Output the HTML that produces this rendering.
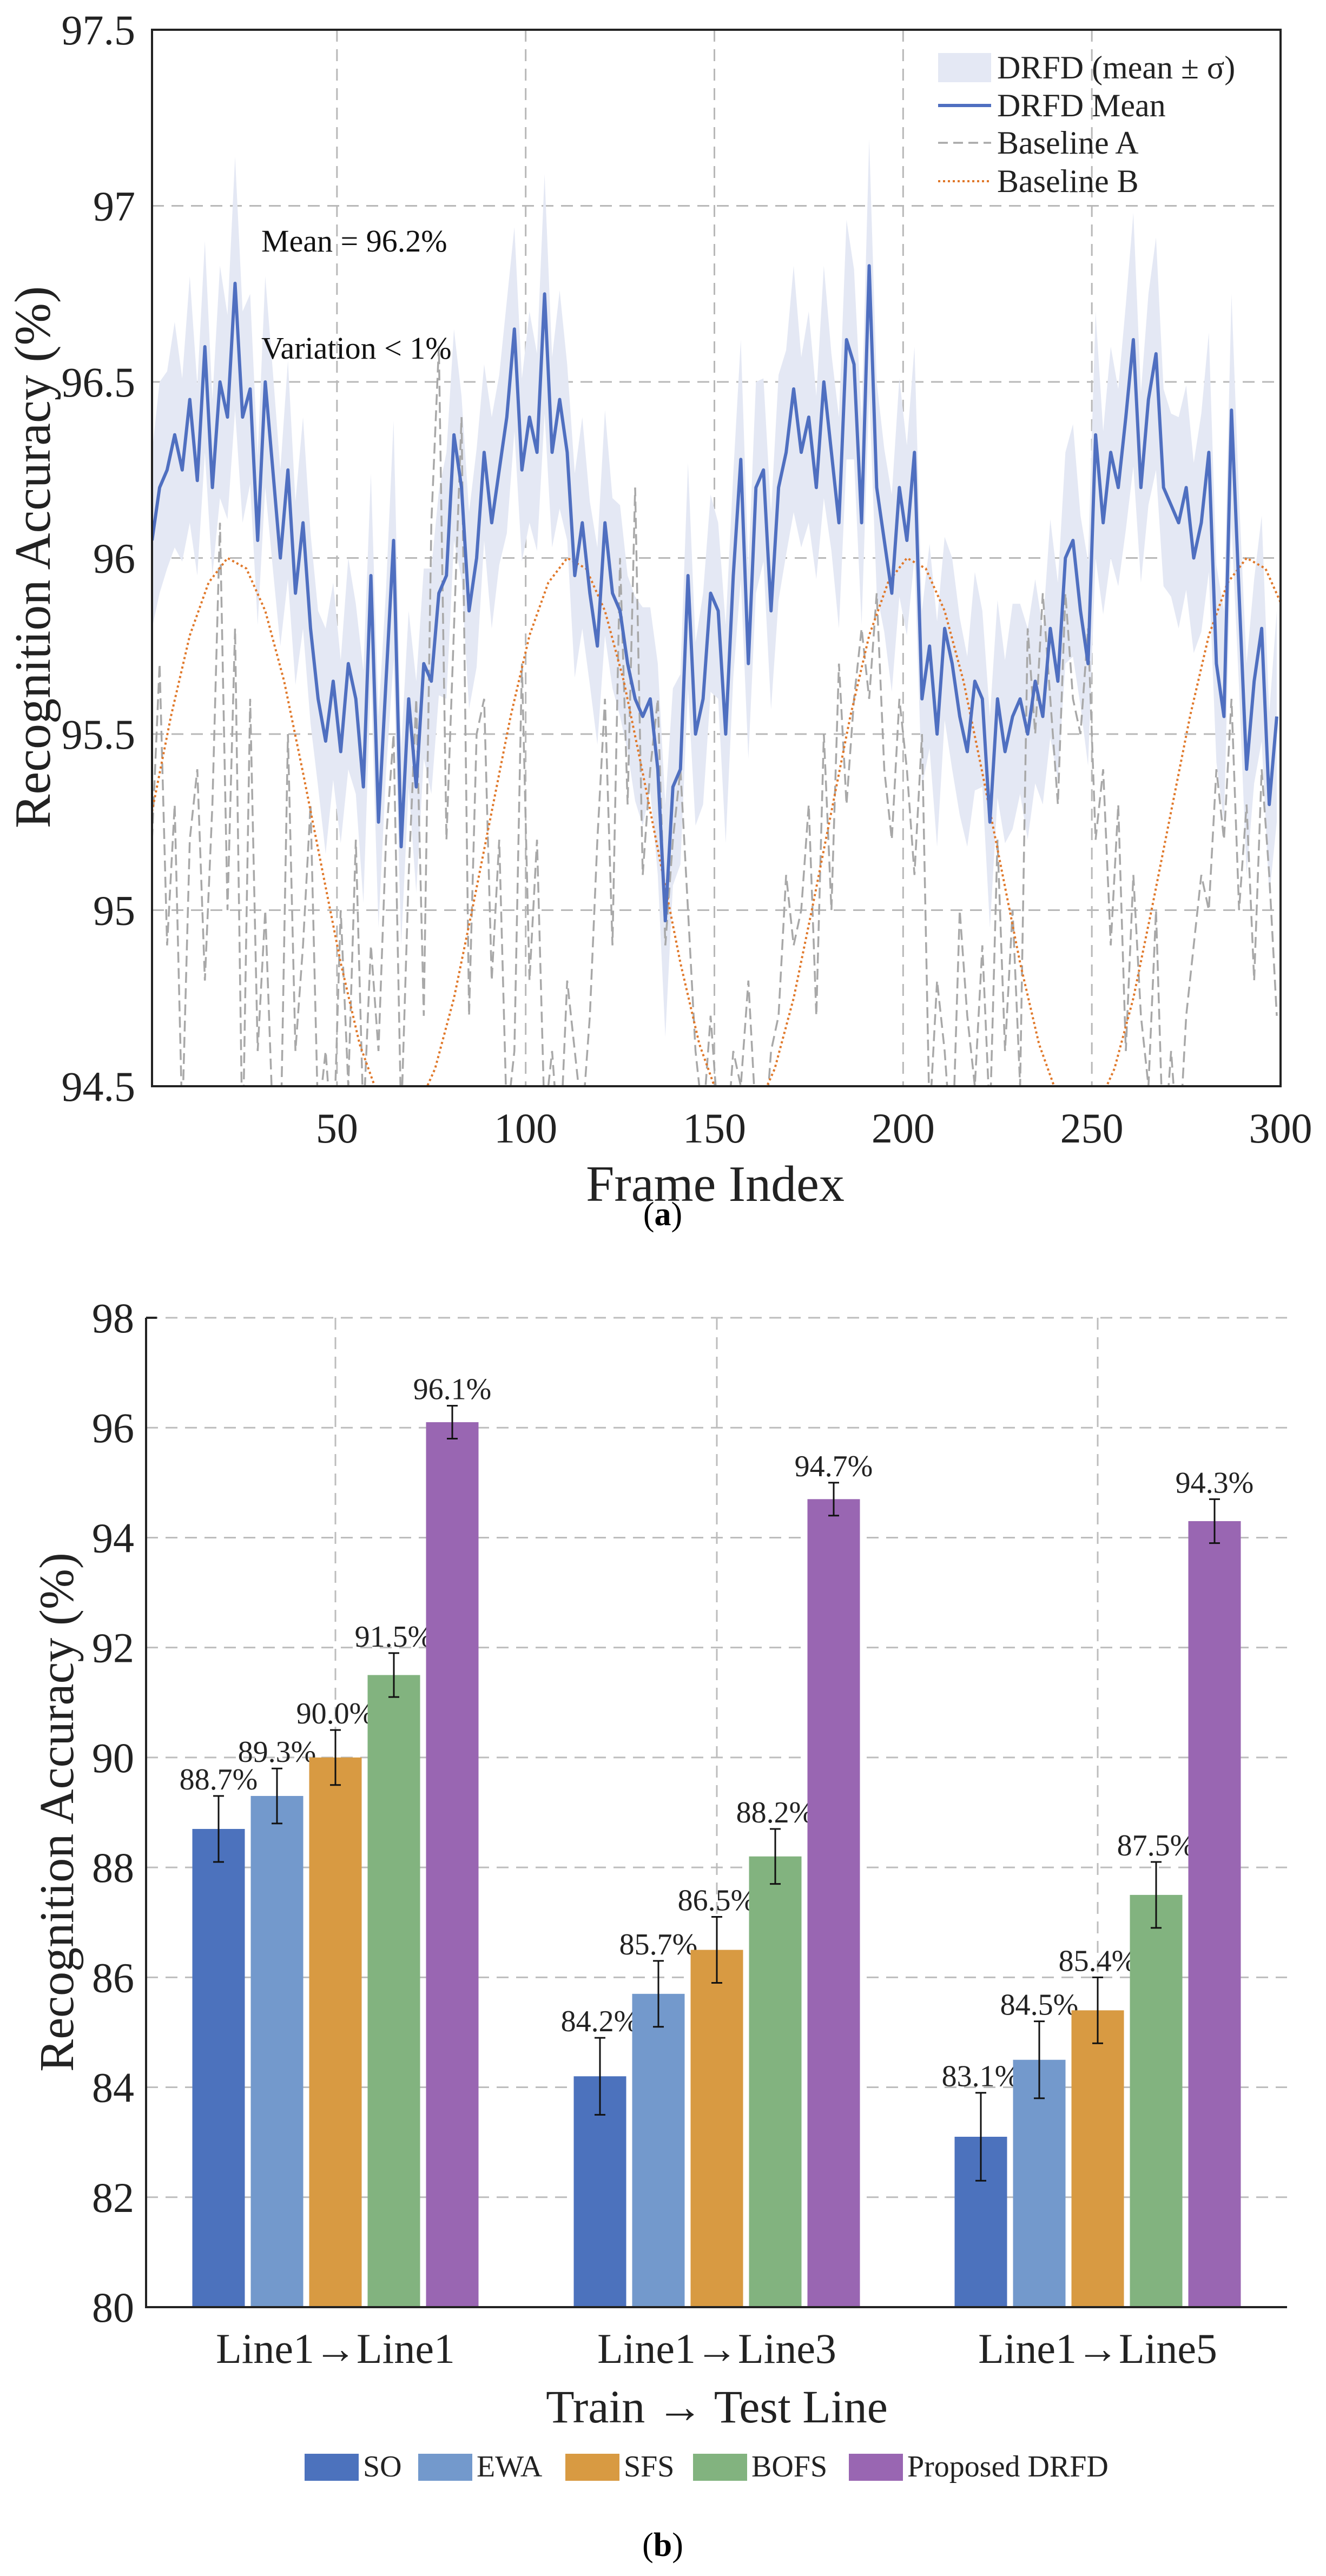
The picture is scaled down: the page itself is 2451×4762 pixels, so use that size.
<!DOCTYPE html>
<html><head><meta charset="utf-8">
<style>
html,body{margin:0;padding:0;background:#fff;}
svg{display:block;font-family:"Liberation Serif",serif;}
</style></head>
<body>
<svg id="fig" width="2451" height="4762" viewBox="0 0 2451 4762" xmlns="http://www.w3.org/2000/svg">
<defs><clipPath id="clipA"><rect x="281" y="55" width="2086" height="1953"/></clipPath></defs>
<g id="chartA"></g>
<text x="1225" y="2265" text-anchor="middle" font-size="62">(<tspan font-weight="bold">a</tspan>)</text>
<g id="chartB"></g>
<text x="1225" y="4725" text-anchor="middle" font-size="62">(<tspan font-weight="bold">b</tspan>)</text>
</svg>
<script>
// ---------- Chart A data ----------
const meanFrames0 = 1, meanStep = 2;
const drfdMean = [96.05,96.2,96.25,96.35,96.25,96.45,96.22,96.6,96.2,96.5,96.4,96.78,96.4,96.48,96.05,96.5,96.25,96.0,96.25,95.9,
96.1,95.8,95.6,95.48,95.65,95.45,95.7,95.6,95.35,95.95,95.25,95.65,96.05,95.18,95.6,95.35,95.7,95.65,95.9,95.95,
96.35,96.2,95.85,96.0,96.3,96.1,96.25,96.4,96.65,96.25,96.4,96.3,96.75,96.3,96.45,96.3,95.95,96.1,95.9,95.75,
96.1,95.9,95.85,95.7,95.6,95.55,95.6,95.4,94.97,95.35,95.4,95.95,95.5,95.6,95.9,95.85,95.5,95.95,96.28,95.7,
96.2,96.25,95.85,96.2,96.3,96.48,96.3,96.4,96.2,96.5,96.3,96.1,96.62,96.55,96.1,96.83,96.2,96.05,95.9,96.2,
96.05,96.3,95.6,95.75,95.5,95.8,95.7,95.55,95.45,95.65,95.6,95.25,95.6,95.45,95.55,95.6,95.5,95.65,95.55,95.8,
95.65,96.0,96.05,95.85,95.7,96.35,96.1,96.3,96.2,96.4,96.62,96.2,96.45,96.58,96.2,96.15,96.1,96.2,96.0,96.1,
96.3,95.7,95.55,96.42,95.9,95.4,95.65,95.8,95.3,95.55];
const drfdSigma = [0.25,0.3,0.28,0.32,0.26,0.35,0.27,0.3,0.25,0.33,0.29,0.36,0.3,0.27,0.24,0.3,0.28,0.25,0.31,0.26,
0.3,0.27,0.25,0.32,0.28,0.26,0.3,0.27,0.33,0.29,0.3,0.26,0.34,0.28,0.25,0.3,0.27,0.32,0.29,0.35,
0.3,0.26,0.28,0.31,0.25,0.3,0.27,0.33,0.29,0.26,0.3,0.28,0.34,0.27,0.31,0.25,0.29,0.3,0.26,0.28,
0.32,0.27,0.3,0.25,0.29,0.31,0.26,0.3,0.33,0.28,0.27,0.32,0.26,0.3,0.28,0.25,0.31,0.29,0.34,0.27,
0.3,0.26,0.28,0.32,0.29,0.35,0.27,0.3,0.26,0.33,0.28,0.3,0.34,0.27,0.29,0.36,0.3,0.26,0.28,0.31,
0.27,0.3,0.25,0.29,0.32,0.26,0.3,0.28,0.27,0.31,0.25,0.3,0.28,0.26,0.32,0.27,0.3,0.29,0.25,0.31,
0.28,0.3,0.33,0.27,0.29,0.35,0.26,0.3,0.28,0.32,0.36,0.27,0.3,0.33,0.28,0.26,0.3,0.29,0.27,0.31,
0.34,0.28,0.3,0.33,0.27,0.3,0.29,0.32,0.26,0.3];
const baselineA = [95.2,95.7,94.9,95.3,94.4,95.2,95.4,94.8,95.3,96.1,95.0,95.8,94.3,95.6,94.6,95.0,94.4,94.3,95.5,94.6,
94.9,95.3,94.4,94.6,94.3,95.0,94.5,95.2,94.4,94.9,94.6,95.2,95.5,94.4,95.1,95.6,94.7,96.1,96.6,95.2,
95.8,96.4,94.7,95.5,95.6,94.8,95.2,94.4,94.6,95.7,94.8,95.2,94.4,94.6,94.3,94.8,94.6,94.4,94.7,95.2,
95.6,94.9,96.0,95.3,96.2,95.1,95.4,95.6,94.9,95.2,95.4,95.0,94.6,94.4,94.7,94.4,94.3,94.6,94.5,94.8,
94.4,94.3,94.6,94.7,95.1,94.9,95.0,95.3,94.7,95.5,95.0,95.7,95.3,95.6,95.8,95.6,95.9,95.4,95.2,95.6,
95.4,95.1,95.5,94.4,94.8,94.6,94.3,95.0,94.7,94.5,94.9,94.4,95.2,94.6,95.0,94.5,95.8,95.5,95.9,95.6,
95.3,95.9,95.6,95.5,95.8,95.2,95.4,94.9,95.3,94.6,95.1,94.7,94.5,95.0,94.3,94.6,94.3,94.7,94.9,95.1,
95.0,95.4,95.2,95.6,95.0,95.3,94.8,95.4,95.1,94.7];
const bFrame0 = 1, bStep = 5;
const baselineB = [95.28,95.55,95.78,95.93,96.00,95.97,95.85,95.65,95.39,95.12,94.85,94.62,94.47,94.40,94.43,94.55,94.75,95.01,
95.28,95.55,95.78,95.93,96.00,95.97,95.85,95.65,95.39,95.12,94.85,94.62,94.47,94.40,94.43,94.55,94.75,95.01,
95.28,95.55,95.78,95.93,96.00,95.97,95.85,95.65,95.39,95.12,94.85,94.62,94.47,94.40,94.43,94.55,94.75,95.01,
95.28,95.55,95.78,95.93,96.00,95.97,95.85,95.65];
const xTicksA = [50,100,150,200,250,300];
const yTicksA = [94.5,95,95.5,96,96.5,97,97.5];
const yTickLabelsA = ["94.5","95","95.5","96","96.5","97","97.5"];

// ---------- Chart B data ----------
const groups = ["Line1\u2192Line1","Line1\u2192Line3","Line1\u2192Line5"];
const methods = ["SO","EWA","SFS","BOFS","Proposed DRFD"];
const valSO = [88.7,84.2,83.1];
const valEWA = [89.3,85.7,84.5];
const valSFS = [90.0,86.5,85.4];
const valBOFS = [91.5,88.2,87.5];
const valDRFD = [96.1,94.7,94.3];
const errSO = [0.6,0.7,0.8];
const errEWA = [0.5,0.6,0.7];
const errSFS = [0.5,0.6,0.6];
const errBOFS = [0.4,0.5,0.6];
const errDRFD = [0.3,0.3,0.4];
const yTicksB = [80,82,84,86,88,90,92,94,96,98];

const NS = "http://www.w3.org/2000/svg";
function mk(tag, attrs, parent){const e=document.createElementNS(NS,tag);for(const k in attrs)e.setAttribute(k,attrs[k]);parent.appendChild(e);return e;}

// ===== Chart A =====
(function(){
const g = document.getElementById('chartA');
const L=281,R=2367,T=55,B=2008;
const xA = f => L + (f-1)/(300-1)*(R-L);
const yA = v => B - (v-94.5)/(97.5-94.5)*(B-T);
const fr = i => meanFrames0 + i*meanStep;
xTicksA.forEach(t=>{ if(t<300){const l=mk('line',{x1:xA(t),x2:xA(t),y1:T,y2:B,stroke:'#b8b8b8','stroke-width':3,'stroke-dasharray':'22 14'},g);

}});
yTicksA.forEach(t=>{ if(t>94.5&&t<97.5){const l=mk('line',{x1:L,x2:R,y1:yA(t),y2:yA(t),stroke:'#b8b8b8','stroke-width':3,'stroke-dasharray':'22 14'},g);

}});
const cg = mk('g',{'clip-path':'url(#clipA)'},g);


let up='',dn='';
drfdMean.forEach((v,i)=>{up+=(i?'L':'M')+xA(fr(i)).toFixed(1)+','+yA(v+drfdSigma[i]).toFixed(1);});
for(let i=drfdMean.length-1;i>=0;i--){dn+='L'+xA(fr(i)).toFixed(1)+','+yA(drfdMean[i]-drfdSigma[i]).toFixed(1);}
const band=mk('path',{d:up+dn+'Z',fill:'#e4e8f4'},cg);


let pa='';baselineA.forEach((v,i)=>{pa+=(i?'L':'M')+xA(fr(i)).toFixed(1)+','+yA(v).toFixed(1);});
const la=mk('path',{d:pa,fill:'none',stroke:'#a8a8a8','stroke-width':3.5,'stroke-dasharray':'20 10'},cg);


let pb='';baselineB.forEach((v,i)=>{pb+=(i?'L':'M')+xA(bFrame0+i*bStep).toFixed(1)+','+yA(v).toFixed(1);});
const lb=mk('path',{d:pb,fill:'none',stroke:'#e0782a','stroke-width':4,'stroke-dasharray':'4 5'},cg);


let pm='';drfdMean.forEach((v,i)=>{pm+=(i?'L':'M')+xA(fr(i)).toFixed(1)+','+yA(v).toFixed(1);});
const lm=mk('path',{d:pm,fill:'none',stroke:'#4f6fc0','stroke-width':6,'stroke-linejoin':'round'},cg);


const fb=mk('rect',{x:L,y:T,width:R-L,height:B-T,fill:'none',stroke:'#222','stroke-width':4},g);


xTicksA.forEach(t=>{const tx=mk('text',{x:xA(t),y:2112,'text-anchor':'middle','font-size':78,fill:'#222'},g);tx.textContent=t;

});
yTicksA.forEach((t,i)=>{const tx=mk('text',{x:250,y:yA(t)+27,'text-anchor':'end','font-size':78,fill:'#222'},g);tx.textContent=yTickLabelsA[i];

});
const xt=mk('text',{x:1322,y:2220,'text-anchor':'middle','font-size':94,fill:'#222'},g);xt.textContent='Frame Index';


const yt=mk('text',{x:0,y:0,'text-anchor':'middle','font-size':94,fill:'#222',transform:'translate(92,1030) rotate(-90)'},g);yt.textContent='Recognition Accuracy (%)';


const a1=mk('text',{x:483,y:465,'font-size':58,fill:'#111'},g);a1.textContent='Mean = 96.2%';


const a2=mk('text',{x:483,y:663,'font-size':58,fill:'#111'},g);a2.textContent='Variation < 1%';


const lg=mk('g',{},g);


const rows=[125,195,264,335];
const lr=mk('rect',{x:1734,y:rows[0]-27,width:98,height:54,fill:'#e4e8f4'},lg);


const l2=mk('line',{x1:1734,x2:1832,y1:rows[1],y2:rows[1],stroke:'#4f6fc0','stroke-width':6},lg);


const l3=mk('line',{x1:1734,x2:1832,y1:rows[2],y2:rows[2],stroke:'#a8a8a8','stroke-width':3.5,'stroke-dasharray':'18 10'},lg);


const l4=mk('line',{x1:1734,x2:1832,y1:rows[3],y2:rows[3],stroke:'#e0782a','stroke-width':4,'stroke-dasharray':'4 5'},lg);


['DRFD (mean \u00b1 \u03c3)','DRFD Mean','Baseline A','Baseline B'].forEach((s,i)=>{const t=mk('text',{x:1843,y:rows[i]+20,'font-size':60,fill:'#222'},lg);t.textContent=s;

});
})();

// ===== Chart B =====
(function(){
const g=document.getElementById('chartB');
const L=270,R=2379,T=2436,B=4265;
const yB=v=>B-(v-80)/(98-80)*(B-T);
const groupCenters=[620,1325,2029];
const bw=97, pitch=108;
const colors=['#4c72bd','#7399cc','#d89a42','#82b37f','#9966b2'];
const vals=[valSO,valEWA,valSFS,valBOFS,valDRFD];
const errs=[errSO,errEWA,errSFS,errBOFS,errDRFD];
yTicksB.forEach(t=>{if(t>80){const l=mk('line',{x1:L,x2:R,y1:yB(t),y2:yB(t),stroke:'#bdbdbd','stroke-width':3,'stroke-dasharray':'22 14'},g);

}});
groupCenters.forEach(c=>{const l=mk('line',{x1:c,x2:c,y1:T,y2:B,stroke:'#bdbdbd','stroke-width':3,'stroke-dasharray':'22 14'},g);

});
groups.forEach((gname,gi)=>{
  methods.forEach((m,mi)=>{
    const x=groupCenters[gi]+(mi-2)*pitch-bw/2;
    const v=vals[mi][gi], e=errs[mi][gi];
    const r=mk('rect',{x:x,y:yB(v),width:bw,height:B-yB(v),fill:colors[mi]},g);
    
    
    const cx=x+bw/2;
    const eb=mk('path',{d:`M${cx},${yB(v+e)}V${yB(v-e)}M${cx-10},${yB(v+e)}H${cx+10}M${cx-10},${yB(v-e)}H${cx+10}`,stroke:'#111','stroke-width':3,fill:'none'},g);
    
    
    const t=mk('text',{x:cx,y:yB(v+e)-12,'text-anchor':'middle','font-size':56,fill:'#222'},g);
    t.textContent=v.toFixed(1)+'%';
    
    
  });
  const tl=mk('text',{x:groupCenters[gi],y:4368,'text-anchor':'middle','font-size':78,fill:'#222'},g);
  tl.textContent=gname;
  
  
});
const ax=mk('path',{d:`M${L},${T}V${B}H${R}M${L},${T}H${L+20}`,stroke:'#222','stroke-width':4,fill:'none'},g);


yTicksB.forEach(t=>{const tx=mk('text',{x:248,y:yB(t)+27,'text-anchor':'end','font-size':78,fill:'#222'},g);tx.textContent=t;

});
const xt=mk('text',{x:1325,y:4478,'text-anchor':'middle','font-size':86,fill:'#222'},g);xt.textContent='Train \u2192 Test Line';


const yt=mk('text',{x:0,y:0,'text-anchor':'middle','font-size':90,fill:'#222',transform:'translate(135,3350) rotate(-90)'},g);yt.textContent='Recognition Accuracy (%)';


const lg=mk('g',{},g);


const lx=[563,773,1045,1281,1569];
methods.forEach((m,i)=>{
  const r=mk('rect',{x:lx[i],y:4536,width:100,height:50,fill:colors[i]},lg);
  
  
  const t=mk('text',{x:lx[i]+108,y:4578,'font-size':56,fill:'#222'},lg);
  t.textContent=m;
  
  
});
})();
</script>
</body></html>
